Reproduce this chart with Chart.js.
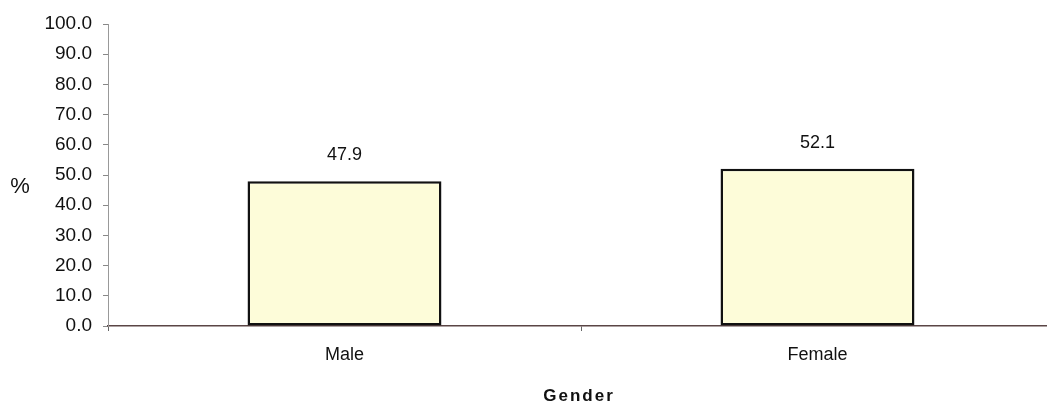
<!DOCTYPE html>
<html>
<head>
<meta charset="utf-8">
<script src="https://cdn.jsdelivr.net/npm/chart.js@4.4.1/dist/chart.umd.min.js"></script>
<style>
  html, body { margin: 0; padding: 0; background: #ffffff; overflow: hidden; }
  #wrap { width: 1047px; height: 404px; overflow: hidden; }
  #chart { display: block; }
</style>
</head>
<body>
<div id="wrap"><canvas id="chart" width="1054" height="404"></canvas></div>
<script>
// Share of respondents by gender (%)
const categories = ['Male', 'Female'];
const percentValues = [47.9, 52.1];
const yTickValues = [0, 10, 20, 30, 40, 50, 60, 70, 80, 90, 100];
const xAxisTitle = 'Gender';
const yAxisTitle = '%';

const FONT = '"Liberation Sans", Arial, Helvetica, sans-serif';

// Value labels above each bar, the "%" caption and the spaced-out axis title
const annotate = {
  id: 'annotate',
  afterDatasetsDraw(chart) {
    const ctx = chart.ctx;
    const meta = chart.getDatasetMeta(0);
    ctx.save();
    ctx.fillStyle = '#111';
    ctx.font = '18px ' + FONT;
    ctx.textAlign = 'center';
    ctx.textBaseline = 'middle';
    meta.data.forEach((bar, i) => {
      ctx.fillText(percentValues[i].toFixed(1), bar.x, bar.y - 26);
    });
    ctx.restore();
  },
  afterDraw(chart) {
    const ctx = chart.ctx;
    const y = chart.scales.y;
    ctx.save();
    ctx.fillStyle = '#111';
    ctx.font = '22px ' + FONT;
    ctx.textAlign = 'center';
    ctx.textBaseline = 'middle';
    ctx.fillText(yAxisTitle, 20, y.getPixelForValue(46));

    ctx.font = 'bold 17px ' + FONT;
    ctx.letterSpacing = '2px';
    ctx.fillText(xAxisTitle, 579, 396);
    ctx.restore();
  }
};

new Chart(document.getElementById('chart'), {
  type: 'bar',
  data: {
    labels: categories,
    datasets: [{
      data: percentValues,
      backgroundColor: '#fdfcd9',
      borderColor: '#111111',
      borderWidth: 2.5,
      borderSkipped: false,
      categoryPercentage: 1.0,
      barPercentage: 0.41
    }]
  },
  options: {
    responsive: false,
    animation: false,
    devicePixelRatio: 1,
    layout: { padding: { top: 24, right: 0, bottom: 0, left: 0 } },
    plugins: {
      legend: { display: false },
      tooltip: { enabled: false },
      title: { display: false }
    },
    scales: {
      x: {
        grid: {
          display: true,
          drawOnChartArea: false,
          drawTicks: true,
          tickLength: 5,
          offset: true,
          color: '#666'
        },
        border: { display: true, color: '#5a4545', width: 1.5 },
        ticks: {
          color: '#111',
          font: { family: FONT, size: 18 },
          padding: 13
        },
        afterFit(scale) { scale.height = 78; }
      },
      y: {
        min: 0,
        max: 100,
        afterBuildTicks(scale) {
          scale.ticks = yTickValues.map(v => ({ value: v }));
        },
        grid: {
          display: true,
          drawOnChartArea: false,
          drawTicks: true,
          tickLength: 5,
          color: '#888'
        },
        border: { display: true, color: '#999', width: 1 },
        ticks: {
          color: '#111',
          font: { family: FONT, size: 19 },
          padding: 11,
          callback: (v) => Number(v).toFixed(1)
        },
        afterFit(scale) { scale.width = 108; }
      }
    }
  },
  plugins: [annotate]
});
</script>
</body>
</html>
